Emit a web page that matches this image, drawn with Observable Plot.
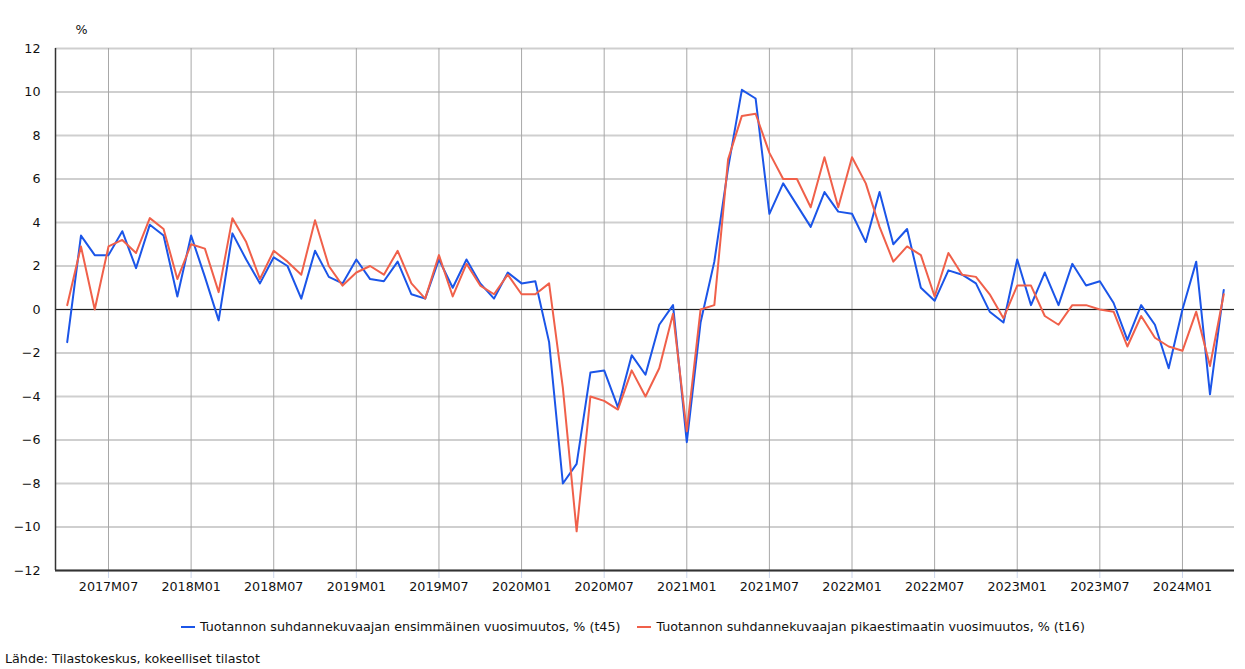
<!DOCTYPE html>
<html>
<head>
<meta charset="utf-8">
<script src="https://cdn.jsdelivr.net/npm/d3@7"></script>
<script src="https://cdn.jsdelivr.net/npm/@observablehq/plot@0.6"></script>
<style>
  html, body { margin: 0; padding: 0; background: #fff; }
  body { width: 1245px; height: 669px; position: relative; font-family: "DejaVu Sans", Verdana, sans-serif; color: #111; }
  #chart { position: absolute; left: 0; top: 0; }
  #legend { position: absolute; left: 181px; top: 619px; font-size: 12.7px; display: flex; align-items: center; white-space: nowrap; }
  #legend .item { display: flex; align-items: center; }
  #legend .sw { width: 14px; height: 2px; margin-right: 5px; }
  #caption { position: absolute; left: 5px; top: 651px; font-size: 12.7px; white-space: nowrap; }
</style>
</head>
<body>
<div id="chart"></div>
<div id="legend"></div>
<div id="caption">Lähde: Tilastokeskus, kokeelliset tilastot</div>
<script>
// Months 2017M04 .. 2024M04
const months = [];
for (let y = 2017; y <= 2024; y++) {
  for (let m = 1; m <= 12; m++) {
    if (y === 2017 && m < 4) continue;
    if (y === 2024 && m > 4) continue;
    months.push(y + "M" + String(m).padStart(2, "0"));
  }
}

const seriesNames = [
  "Tuotannon suhdannekuvaajan ensimmäinen vuosimuutos, % (t45)",
  "Tuotannon suhdannekuvaajan pikaestimaatin vuosimuutos, % (t16)"
];
const seriesColors = ["#1b55e8", "#f0604a"];

// t45: first estimate
const firstValues = [
  -1.5, 3.4, 2.5, 2.5, 3.6, 1.9, 3.9, 3.4, 0.6,
  3.4, 1.5, -0.5, 3.5, 2.3, 1.2, 2.4, 2.0, 0.5, 2.7, 1.5, 1.2,
  2.3, 1.4, 1.3, 2.2, 0.7, 0.5, 2.3, 1.0, 2.3, 1.2, 0.5, 1.7,
  1.2, 1.3, -1.5, -8.0, -7.1, -2.9, -2.8, -4.5, -2.1, -3.0, -0.7, 0.2,
  -6.1, -0.6, 2.2, 6.5, 10.1, 9.7, 4.4, 5.8, 4.8, 3.8, 5.4, 4.5,
  4.4, 3.1, 5.4, 3.0, 3.7, 1.0, 0.4, 1.8, 1.6, 1.2, -0.1, -0.6,
  2.3, 0.2, 1.7, 0.2, 2.1, 1.1, 1.3, 0.3, -1.4, 0.2, -0.7, -2.7,
  0.0, 2.2, -3.9, 0.9
];

// t16: flash estimate
const flashValues = [
  0.2, 2.9, 0.0, 2.9, 3.2, 2.6, 4.2, 3.7, 1.4,
  3.0, 2.8, 0.8, 4.2, 3.1, 1.4, 2.7, 2.2, 1.6, 4.1, 2.0, 1.1,
  1.7, 2.0, 1.6, 2.7, 1.2, 0.5, 2.5, 0.6, 2.1, 1.1, 0.7, 1.6,
  0.7, 0.7, 1.2, -3.6, -10.2, -4.0, -4.2, -4.6, -2.8, -4.0, -2.7, -0.2,
  -5.6, 0.0, 0.2, 6.9, 8.9, 9.0, 7.2, 6.0, 6.0, 4.7, 7.0, 4.7,
  7.0, 5.8, 3.8, 2.2, 2.9, 2.5, 0.6, 2.6, 1.6, 1.5, 0.7, -0.4,
  1.1, 1.1, -0.3, -0.7, 0.2, 0.2, 0.0, -0.1, -1.7, -0.3, -1.3, -1.7,
  -1.9, -0.1, -2.6, 0.7
];

const tickLabels = ["2017M07","2018M01","2018M07","2019M01","2019M07","2020M01","2020M07",
  "2021M01","2021M07","2022M01","2022M07","2023M01","2023M07","2024M01"];
const yTicks = [-12,-10,-8,-6,-4,-2,0,2,4,6,8,10,12];

const tickIdx = tickLabels.map(l => months.indexOf(l));
const data = [];
months.forEach((m, i) => {
  data.push({i, month: m, value: firstValues[i], series: seriesNames[0]});
  data.push({i, month: m, value: flashValues[i], series: seriesNames[1]});
});

const xDomain = [-0.85, months.length - 1 + 0.78];

const chart = Plot.plot({
  width: 1245,
  height: 600,
  marginLeft: 55,
  marginRight: 11,
  marginTop: 48,
  marginBottom: 30,
  style: {fontFamily: "DejaVu Sans, Verdana, sans-serif", fontSize: "12.7px", color: "#111", background: "#fff"},
  x: {domain: xDomain, label: null},
  y: {domain: [-12, 12], label: null},
  color: {domain: seriesNames, range: seriesColors},
  marks: [
    Plot.gridY(yTicks, {stroke: "#cfcfcf", strokeOpacity: 1, strokeWidth: 2}),
    Plot.gridX(tickIdx, {stroke: "#a8a8a8", strokeOpacity: 1, strokeWidth: 1}),
    Plot.axisX(tickIdx, {tickSize: 8, tickPadding: 3, stroke: "#ccd6eb", tickFormat: (d) => months[d], fill: "#111", label: null}),
    Plot.axisY(yTicks, {tickSize: 0, tickPadding: 15, label: null, fill: "#111"}),
    Plot.ruleY([0], {stroke: "#222", strokeWidth: 1.2}),
    Plot.ruleY([-12], {stroke: "#333", strokeWidth: 2}),
    Plot.ruleX([xDomain[0]], {stroke: "#333", strokeWidth: 1.5}),
    Plot.line(data, {x: "i", y: "value", z: "series", stroke: "series", strokeWidth: 2, curve: "linear"}),
    Plot.text(["%"], {frameAnchor: "top-left", dx: 26, dy: -24, textAnchor: "middle", fill: "#111"})
  ]
});
document.getElementById("chart").appendChild(chart);

const legend = document.getElementById("legend");
seriesNames.forEach((name, k) => {
  const item = document.createElement("div");
  item.className = "item";
  if (k > 0) item.style.marginLeft = "17px";
  const sw = document.createElement("span");
  sw.className = "sw";
  sw.style.background = seriesColors[k];
  const t = document.createElement("span");
  t.textContent = name;
  item.appendChild(sw);
  item.appendChild(t);
  legend.appendChild(item);
});
</script>
</body>
</html>
